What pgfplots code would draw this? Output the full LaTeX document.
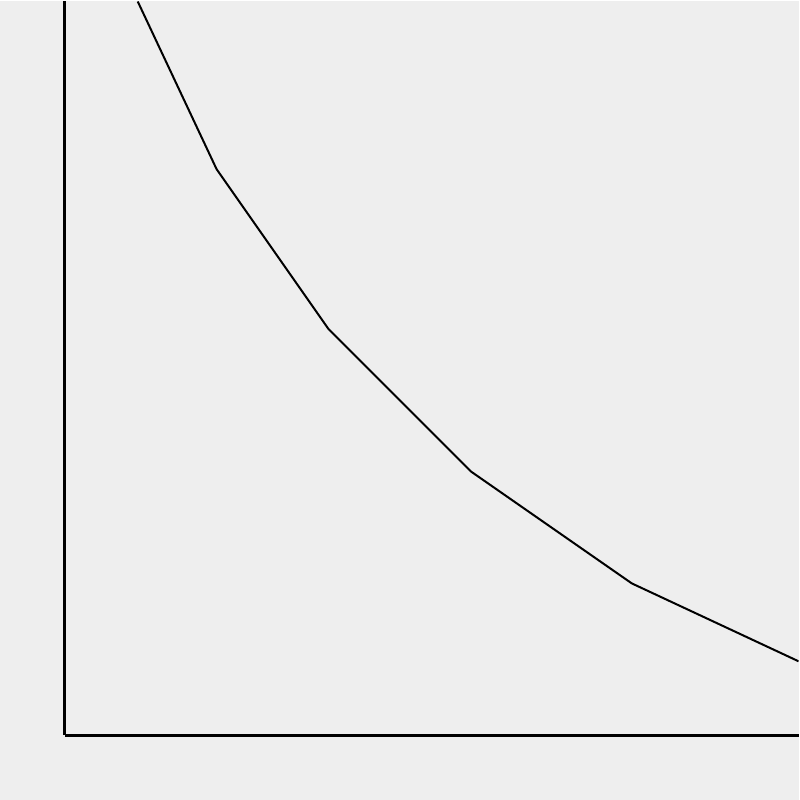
\documentclass[border=0pt]{standalone}
\usepackage{pgfplots}
\pgfplotsset{compat=1.18}
\definecolor{bg}{HTML}{EEEEEE}
\begin{document}
\begin{tikzpicture}[x=1pt,y=1pt]
\fill[bg] (0,0) rectangle (800,800);
\begin{axis}[
  at={(65pt,65pt)}, anchor=origin,
  scale only axis, width=735pt, height=735pt,
  xmin=0, xmax=735, ymin=0, ymax=735,
  axis x line*=bottom, axis y line*=left,
  axis line style={line width=3pt,-},
  xtick=\empty, ytick=\empty,
  clip=true,
]
\addplot[black, line width=2pt, mark=none] coordinates {
(73,735) (152,567) (264,407) (407,264) (568,152) (735,74)
};
\end{axis}
\end{tikzpicture}
\end{document}
